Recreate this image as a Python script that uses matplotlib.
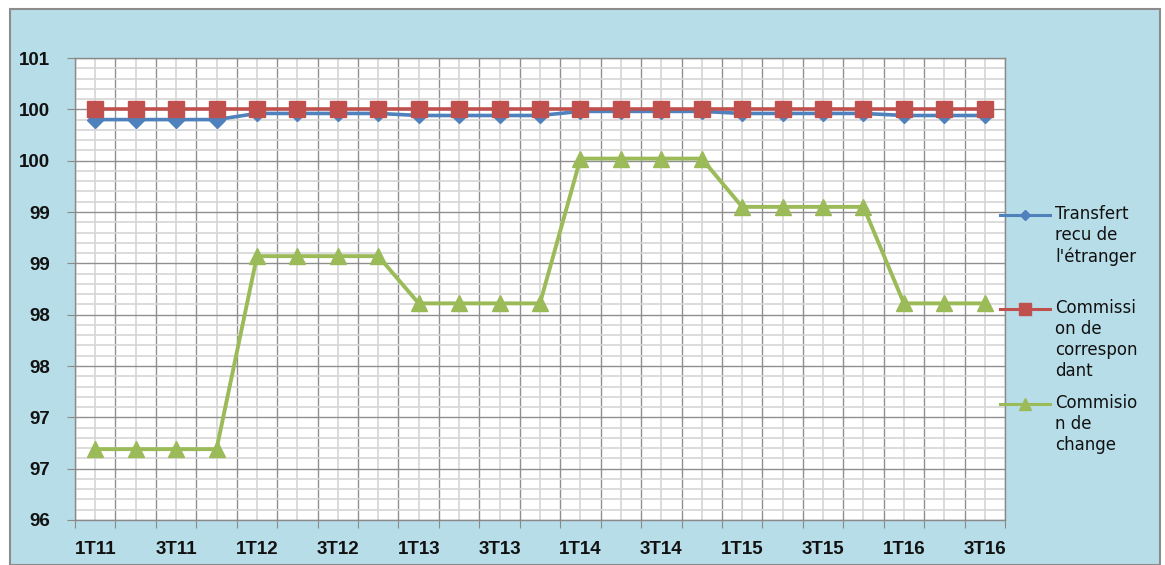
import math
import matplotlib
matplotlib.use("Agg")
import matplotlib.pyplot as plt
from matplotlib.patches import Rectangle
from matplotlib.lines import Line2D
from matplotlib.ticker import MultipleLocator, FixedLocator, FuncFormatter

plt.rcParams['font.family'] = ['Liberation Sans', 'DejaVu Sans']

quarters = ['1T11', '2T11', '3T11', '4T11',
            '1T12', '2T12', '3T12', '4T12',
            '1T13', '2T13', '3T13', '4T13',
            '1T14', '2T14', '3T14', '4T14',
            '1T15', '2T15', '3T15', '4T15',
            '1T16', '2T16', '3T16']

transfert = [99.90, 99.90, 99.90, 99.90,
             99.96, 99.96, 99.96, 99.96,
             99.94, 99.94, 99.94, 99.94,
             99.98, 99.98, 99.98, 99.98,
             99.96, 99.96, 99.96, 99.96,
             99.94, 99.94, 99.94]

correspondant = [100.0] * 23

change = [96.69, 96.69, 96.69, 96.69,
          98.57, 98.57, 98.57, 98.57,
          98.11, 98.11, 98.11, 98.11,
          99.52, 99.52, 99.52, 99.52,
          99.05, 99.05, 99.05, 99.05,
          98.11, 98.11, 98.11]

labels = ["Transfert\nrecu de\nl'étranger",
          "Commissi\non de\ncorrespon\ndant",
          "Commisio\nn de\nchange"]

BG = '#b7dde8'
BLUE = '#4f81bd'
RED = '#c0504d'
GREEN = '#9bbb59'

W, H = 1165, 565
fig = plt.figure(figsize=(W / 100, H / 100), dpi=100, facecolor='white')

# chart area frame
fig.patches.append(Rectangle((10 / W, 0), 1150 / W, (H - 9) / H, transform=fig.transFigure,
                             facecolor=BG, edgecolor='#8c8c8c', linewidth=1.5, zorder=-5))

ax = fig.add_axes([75 / W, (H - 520) / H, 930 / W, 462 / H])
ax.set_facecolor('white')

x = list(range(len(quarters)))
ax.plot(x, transfert, color=BLUE, lw=2.6, marker='D', ms=8, zorder=3)
ax.plot(x, correspondant, color=RED, lw=2.6, marker='s', ms=11.5, zorder=4)
ax.plot(x, change, color=GREEN, lw=2.8, marker='^', ms=12, zorder=5)

ax.set_xlim(-0.5, len(quarters) - 0.5)
ax.set_ylim(96, 100.5)

# Excel-style 0.5 steps shown with "0" number format
ax.yaxis.set_major_locator(MultipleLocator(0.5))
ax.yaxis.set_minor_locator(MultipleLocator(0.1))
ax.yaxis.set_major_formatter(FuncFormatter(lambda v, p: str(int(math.floor(v + 0.5 + 1e-9)))))

ax.xaxis.set_major_locator(FixedLocator([i - 0.5 for i in range(len(quarters) + 1)]))
ax.xaxis.set_minor_locator(FixedLocator(x))
ax.set_xticklabels([])
ax.xaxis.set_minor_formatter(FuncFormatter(lambda v, p: quarters[int(round(v))] if int(round(v)) % 2 == 0 else ''))

ax.grid(which='major', color='#8f8f8f', lw=1.0, zorder=1)
ax.grid(which='minor', color='#d6d6d6', lw=1.2, zorder=0.5)
ax.set_axisbelow(True)

ax.tick_params(axis='y', which='major', length=6, color='#8a8a8a', labelsize=13.5, pad=12)
ax.tick_params(axis='y', which='minor', length=0)
ax.tick_params(axis='x', which='major', length=6, color='#8a8a8a')
ax.tick_params(axis='x', which='minor', length=0, labelsize=13.5, pad=15)
for t in ax.get_yticklabels() + ax.get_xticklabels(minor=True):
    t.set_fontweight('bold')
    t.set_color('#111111')

for s in ax.spines.values():
    s.set_color('#8a8a8a')
    s.set_linewidth(1.0)

# legend drawn by hand in figure pixels
leg = [(215, BLUE, 'D', 5), (309, RED, 's', 8.5), (404, GREEN, '^', 8)]
for (yp, col, mk, ms), lab in zip(leg, labels):
    yf = (H - yp) / H
    fig.add_artist(Line2D([1000 / W, 1050 / W], [yf, yf], transform=fig.transFigure,
                          color=col, lw=2.2))
    fig.add_artist(Line2D([1025 / W], [yf], transform=fig.transFigure,
                          color=col, marker=mk, ms=ms, lw=0))
    fig.text(1055 / W, (H - yp + 10) / H, lab, ha='left', va='top', fontsize=12,
             family=['DejaVu Sans'], color='#111111', linespacing=1.22)

fig.savefig('out.png', dpi=100, facecolor='white')
